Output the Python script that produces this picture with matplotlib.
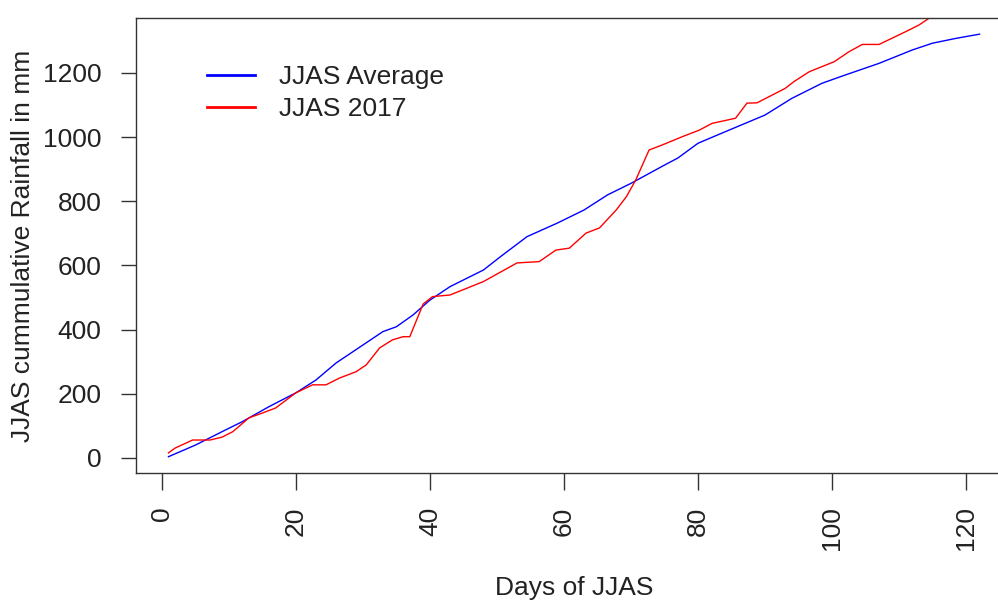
import matplotlib
matplotlib.use("Agg")
import matplotlib.pyplot as plt
from matplotlib.lines import Line2D

plt.rcParams["font.family"] = ["Liberation Sans", "DejaVu Sans"]

# JJAS average cumulative rainfall (mm)
avg_days = [1, 5, 9, 12, 16, 20, 23, 26, 30, 33, 35, 37.5, 40, 43, 48, 50.5,
            54.5, 59, 63, 66.5, 70, 75, 77, 80, 83.5, 90, 94, 98.5, 102, 107,
            112, 115, 118.5, 122]
avg_rain = [4, 40, 82, 113, 160, 203, 243, 296, 352, 394, 409, 446, 492, 534,
            586, 627, 690, 732, 773, 820, 856, 913, 935, 981, 1012, 1069, 1121,
            1168, 1194, 1230, 1272, 1293, 1308, 1321]

# JJAS 2017 cumulative rainfall (mm)
y2017_days = [1, 2, 4.6, 7.2, 9, 10.6, 13, 15, 17, 18.6, 20, 22.5, 24.5, 26.5,
              29, 30.5, 32.5, 34.4, 36, 37, 39, 40.4, 43, 48, 53, 56.3, 58.8,
              60.8, 63.3, 65.3, 67.8, 69.3, 70.7, 72.7, 74.7, 77.6, 80.2, 82.1,
              85.6, 87.3, 88.8, 93, 94.3, 96.6, 100.3, 102.5, 104.5, 107, 111,
              113, 114.7, 117]
y2017_rain = [16, 31, 56, 56, 65, 82, 125, 140, 156, 181, 203, 228, 228, 249,
              269, 290, 343, 368, 378, 378, 480, 503, 508, 550, 608, 612, 648,
              654, 701, 717, 773, 814, 866, 960, 976, 1001, 1022, 1043, 1059,
              1106, 1107, 1152, 1173, 1204, 1235, 1266, 1289, 1289, 1329, 1350,
              1374, 1400]

x_ticks = [0, 20, 40, 60, 80, 100, 120]
y_ticks = [0, 200, 400, 600, 800, 1000, 1200]
labels = ["JJAS Average", "JJAS 2017"]

fs = 19
txt = "#222222"
fig = plt.figure(figsize=(9.98, 6.04), dpi=100)
# plot region runs a little past the right edge of the image, as in the source
ax = fig.add_axes([136 / 998, 1 - 473 / 604, (1012 - 136) / 998, (473 - 18) / 604])

ax.plot(avg_days, avg_rain, color="blue", lw=1.0)
ax.plot(y2017_days, y2017_rain, color="red", lw=1.0)

ax.set_xlim(-3.84, 126.84)
ax.set_ylim(-46.8, 1371.4)

ax.set_xticks(x_ticks)
ax.set_xticklabels([str(t) for t in x_ticks], rotation=90, fontsize=fs, va="top", color=txt)
ax.set_yticks(y_ticks)
ax.set_yticklabels([str(t) for t in y_ticks], fontsize=fs, color=txt)
ax.tick_params(axis="x", length=12, width=1.0, pad=12, color="#333333")
ax.tick_params(axis="y", length=11, width=1.0, pad=14, color="#333333")
for s in ax.spines.values():
    s.set_linewidth(1.0)
    s.set_color("#333333")

fig.text(574 / 998, 1 - 588 / 604, "Days of JJAS", ha="center", va="center",
         fontsize=fs, color=txt)
fig.text(23 / 998, 1 - 246 / 604, "JJAS cummulative Rainfall in mm", rotation=90,
         ha="center", va="center", fontsize=fs, color=txt)

handles = [Line2D([], [], color="blue", lw=2), Line2D([], [], color="red", lw=2)]
leg = ax.legend(handles, labels, loc="upper left", bbox_to_anchor=(207 / 998, 1 - 65 / 604),
                bbox_transform=fig.transFigure, frameon=False, fontsize=fs,
                handlelength=1.8, handletextpad=0.92, labelspacing=0.32,
                borderpad=0, borderaxespad=0)
for t in leg.get_texts():
    t.set_color(txt)

fig.savefig("out.png", dpi=100)
